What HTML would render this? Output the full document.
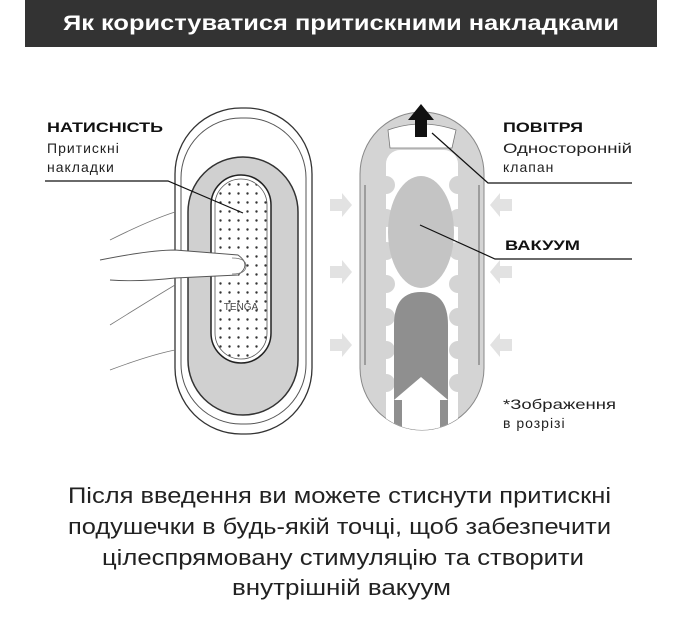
<!DOCTYPE html>
<html><head><meta charset="utf-8"><style>
html,body{margin:0;padding:0;background:#fff;width:680px;height:630px;overflow:hidden}
svg{display:block}
text{font-family:"Liberation Sans",sans-serif}
</style></head><body>
<svg width="680" height="630" viewBox="0 0 680 630">
<defs>
<pattern id="dots" x="0" y="0" width="9" height="9" patternUnits="userSpaceOnUse">
<circle cx="4.5" cy="4.5" r="1.2" fill="#333"/></pattern>
<clipPath id="chan"><rect x="360" y="112" width="124" height="318" rx="62"/></clipPath>
</defs>
<rect x="25" y="0" width="632" height="47" fill="#333"/>
<text x="341" y="30" font-size="21" font-weight="bold" fill="#fff" text-anchor="middle" textLength="556" lengthAdjust="spacingAndGlyphs">Як користуватися притискними накладками</text>

<!-- left device -->
<rect x="175" y="108" width="137" height="326" rx="66" fill="#fff" stroke="#333" stroke-width="1.3"/>
<rect x="181" y="118" width="125" height="306" rx="60" fill="none" stroke="#555" stroke-width="1"/>
<rect x="188" y="157" width="110" height="258" rx="55" fill="#d0d0d0" stroke="#333" stroke-width="1.5"/>
<rect x="211" y="175" width="60" height="188" rx="30" fill="#fff" stroke="#222" stroke-width="1.5"/>
<rect x="215" y="179" width="52" height="180" rx="26" fill="url(#dots)" stroke="#555" stroke-width="0.8"/>
<text x="241" y="310" font-size="10" fill="#444" text-anchor="middle">TENGA</text>
<!-- hand -->
<path d="M100 260 Q150 250 175 250 L238 255 Q252 265 238 275 L175 278 Q140 282 110 280" fill="#fff" stroke="#555" stroke-width="0.9"/>
<path d="M110 240 Q150 220 175 212" fill="none" stroke="#777" stroke-width="0.8"/>
<path d="M110 325 Q150 300 175 285" fill="none" stroke="#777" stroke-width="0.8"/>
<path d="M110 370 Q150 355 175 350" fill="none" stroke="#777" stroke-width="0.8"/>
<path d="M232 258 Q246 258 246 266 Q246 274 232 274" fill="none" stroke="#777" stroke-width="0.8"/>

<!-- right device -->
<rect x="360" y="112" width="124" height="318" rx="62" fill="#d4d4d4" stroke="#888" stroke-width="1"/>
<line x1="365" y1="185" x2="365" y2="365" stroke="#666"/><line x1="479" y1="185" x2="479" y2="365" stroke="#666"/>
<g clip-path="url(#chan)">
<rect x="386" y="150" width="72" height="285" rx="14" fill="#fff"/>
<g fill="#d4d4d4">
<circle cx="386" cy="185" r="9"/><circle cx="386" cy="218" r="9"/><circle cx="386" cy="251" r="9"/><circle cx="386" cy="284" r="9"/><circle cx="386" cy="317" r="9"/><circle cx="386" cy="350" r="9"/><circle cx="386" cy="383" r="9"/>
<circle cx="458" cy="185" r="9"/><circle cx="458" cy="218" r="9"/><circle cx="458" cy="251" r="9"/><circle cx="458" cy="284" r="9"/><circle cx="458" cy="317" r="9"/><circle cx="458" cy="350" r="9"/><circle cx="458" cy="383" r="9"/>
</g>
<ellipse cx="421" cy="232" rx="33" ry="56" fill="#c4c4c4"/>
<path d="M394 433 L394 325 Q394 292 421 292 Q448 292 448 325 L448 433 Z" fill="#8f8f8f"/>
<path d="M402 433 L402 400 L394 400 L421 377 L448 400 L440 400 L440 433 Z" fill="#fff"/>
<path d="M388 130 Q421 118 456 130 L452 148 L390 148 Z" fill="#fff" stroke="#777" stroke-width="0.8"/>
</g>
<path d="M408 120 L421 104 L434 120 L427 120 L427 137 L415 137 L415 120 Z" fill="#111"/>
<g fill="#e2e2e2">
<path d="M330 199 L342 199 L342 193 L352 205 L342 217 L342 211 L330 211 Z"/>
<path d="M330 266 L342 266 L342 260 L352 272 L342 284 L342 278 L330 278 Z"/>
<path d="M330 339 L342 339 L342 333 L352 345 L342 357 L342 351 L330 351 Z"/>
<path d="M512 199 L500 199 L500 193 L490 205 L500 217 L500 211 L512 211 Z"/>
<path d="M512 266 L500 266 L500 260 L490 272 L500 284 L500 278 L512 278 Z"/>
<path d="M512 339 L500 339 L500 333 L490 345 L500 357 L500 351 L512 351 Z"/>
</g>

<!-- labels -->
<text x="47" y="132" font-size="14" font-weight="bold" fill="#111" textLength="116" lengthAdjust="spacingAndGlyphs">НАТИСНІСТЬ</text>
<text x="47" y="153" font-size="14" fill="#222" letter-spacing="1">Притискні</text>
<text x="47" y="172" font-size="14" fill="#222" letter-spacing="1">накладки</text>
<polyline points="45,181 168,181 243,213" fill="none" stroke="#111" stroke-width="1.2"/>
<text x="503" y="132" font-size="14" font-weight="bold" fill="#111" textLength="80" lengthAdjust="spacingAndGlyphs">ПОВІТРЯ</text>
<text x="503" y="153" font-size="14" fill="#222" textLength="129" lengthAdjust="spacingAndGlyphs">Односторонній</text>
<text x="503" y="172" font-size="14" fill="#222" letter-spacing="1">клапан</text>
<polyline points="432,133 488,183 632,183" fill="none" stroke="#111" stroke-width="1.2"/>
<text x="505" y="250" font-size="14" font-weight="bold" fill="#111" textLength="75" lengthAdjust="spacingAndGlyphs">ВАКУУМ</text>
<polyline points="420,225 495,259 632,259" fill="none" stroke="#111" stroke-width="1.2"/>
<text x="503" y="409" font-size="14" fill="#222" textLength="113" lengthAdjust="spacingAndGlyphs">*Зображення</text>
<text x="503" y="428" font-size="14" fill="#222" letter-spacing="1">в розрізі</text>

<g font-size="22" fill="#222">
<text x="68" y="503" textLength="543" lengthAdjust="spacingAndGlyphs">Після введення ви можете стиснути притискні</text>
<text x="68" y="534" textLength="543" lengthAdjust="spacingAndGlyphs">подушечки в будь-якій точці, щоб забезпечити</text>
<text x="102" y="565" textLength="482" lengthAdjust="spacingAndGlyphs">цілеспрямовану стимуляцію та створити</text>
<text x="232" y="595" textLength="219" lengthAdjust="spacingAndGlyphs">внутрішній вакуум</text>
</g>
</svg>
</body></html>
